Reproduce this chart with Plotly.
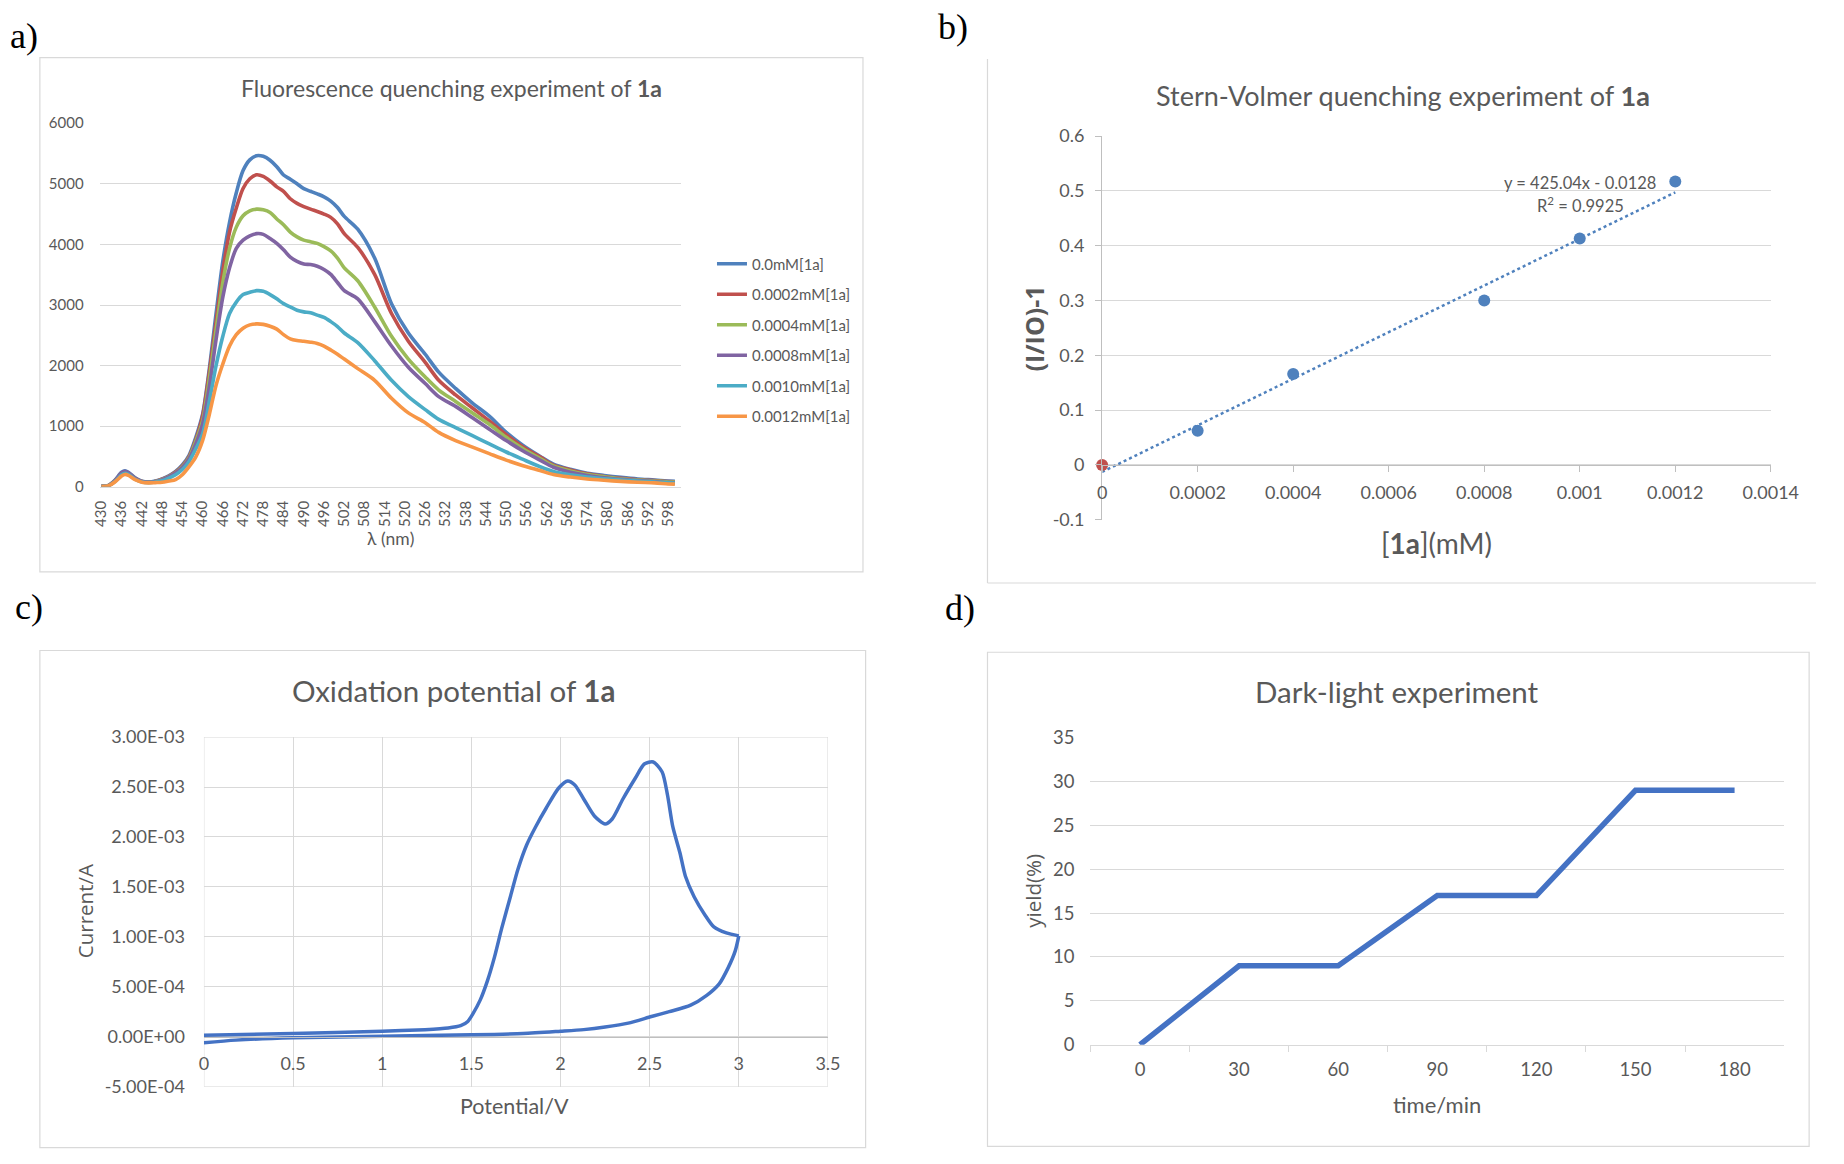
import plotly.graph_objects as go

W, H = 1844, 1164

# ---------------- a) fluorescence spectra ----------------
wavelength = [430, 432, 434, 436, 437, 438, 440, 442, 444, 446,
              448, 450, 452, 454, 456, 458, 460, 462, 464, 466,
              468, 470, 472, 474, 476, 478, 480, 482, 484, 486,
              488, 490, 492, 494, 496, 498, 500, 502,
              506, 511, 516, 521, 526, 530, 535, 540, 545, 550,
              555, 560, 564, 569, 574, 579, 584, 589, 594, 598, 600]

spec_names = ["0.0mM[1a]", "0.0002mM[1a]", "0.0004mM[1a]",
              "0.0008mM[1a]", "0.0010mM[1a]", "0.0012mM[1a]"]
spec_colors = ["#4F81BD", "#C0504D", "#9BBB59", "#8064A2", "#4BACC6", "#F79646"]

spec_00 = [8, 20, 110, 240, 263, 240, 150, 95, 80, 95,
           129, 180, 253, 360, 522, 817, 1194, 1946, 2860, 3720,
           4365, 4852, 5217, 5394, 5464, 5453, 5389, 5282, 5145, 5075,
           5000, 4919, 4876, 4833, 4785, 4715, 4608, 4462,
           4250, 3774, 3022, 2538, 2188, 1892, 1624, 1382, 1167, 898,
           683, 505, 376, 290, 226, 188, 156, 129, 113, 97, 91]
spec_02 = [8, 18, 100, 225, 250, 228, 140, 90, 78, 90,
           125, 175, 245, 345, 500, 780, 1167, 1892, 2726, 3559,
           4204, 4600, 4922, 5083, 5148, 5121, 5046, 4950, 4876, 4753,
           4677, 4624, 4581, 4543, 4500, 4446, 4339, 4177,
           3950, 3505, 2860, 2403, 2054, 1758, 1516, 1301, 1086, 860,
           656, 495, 360, 280, 215, 172, 140, 118, 102, 86, 82]
spec_04 = [8, 18, 98, 220, 245, 222, 138, 90, 77, 88,
           120, 170, 235, 330, 480, 753, 1086, 1785, 2591, 3371,
           3935, 4285, 4473, 4554, 4581, 4570, 4527, 4419, 4323, 4204,
           4124, 4070, 4043, 4016, 3962, 3892, 3774, 3613,
           3400, 2968, 2484, 2108, 1812, 1597, 1409, 1220, 1032, 817,
           629, 468, 344, 263, 204, 167, 134, 113, 97, 81, 78]
spec_08 = [8, 18, 100, 228, 255, 230, 140, 90, 77, 87,
           115, 165, 230, 320, 465, 710, 1032, 1651, 2430, 3129,
           3613, 3935, 4070, 4140, 4177, 4165, 4097, 4016, 3910, 3790,
           3720, 3677, 3667, 3640, 3586, 3505, 3371, 3237,
           3100, 2726, 2323, 1973, 1704, 1489, 1328, 1140, 952, 763,
           591, 441, 323, 242, 188, 151, 124, 102, 86, 70, 68]
spec_10 = [6, 15, 85, 200, 225, 205, 125, 82, 70, 80,
           100, 145, 200, 285, 420, 629, 871, 1409, 2000, 2484,
           2860, 3048, 3172, 3210, 3237, 3226, 3172, 3102, 3022, 2968,
           2914, 2887, 2871, 2833, 2796, 2726, 2645, 2538,
           2380, 2081, 1758, 1489, 1274, 1113, 978, 844, 710, 575,
           452, 333, 253, 199, 161, 134, 113, 97, 81, 65, 62]
spec_12 = [5, 14, 80, 180, 205, 190, 120, 78, 66, 70,
           75, 95, 118, 199, 333, 495, 763, 1194, 1677, 2027,
           2323, 2511, 2618, 2672, 2688, 2680, 2650, 2602, 2511, 2441,
           2414, 2403, 2387, 2366, 2323, 2258, 2188, 2108,
           1950, 1758, 1462, 1220, 1059, 898, 763, 656, 548, 441,
           349, 269, 204, 161, 129, 108, 91, 75, 65, 48, 45]
spectra = [spec_00, spec_02, spec_04, spec_08, spec_10, spec_12]
wl_ticks = list(range(430, 599, 6))

# ---------------- b) Stern-Volmer ----------------
conc = [0.0002, 0.0004, 0.0008, 0.001, 0.0012]
ratio = [0.0625, 0.166, 0.300, 0.413, 0.517]
conc_blank = [0]
ratio_blank = [0]
fit_x = [0, 0.0012]
fit_y = [-0.0128, 0.4972]
sv_xticks = [0, 0.0002, 0.0004, 0.0006, 0.0008, 0.001, 0.0012, 0.0014]
sv_xlabels = ["0", "0.0002", "0.0004", "0.0006", "0.0008", "0.001", "0.0012", "0.0014"]
sv_yticks = [-0.1, 0, 0.1, 0.2, 0.3, 0.4, 0.5, 0.6]
sv_ylabels = ["-0.1", "0", "0.1", "0.2", "0.3", "0.4", "0.5", "0.6"]

# ---------------- c) cyclic voltammogram ----------------
pot_fwd = [0, 0.5, 1.0, 1.24, 1.37, 1.44, 1.48, 1.51, 1.55, 1.59, 1.63, 1.67,
           1.72, 1.76, 1.81, 1.86, 1.92, 1.99, 2.04, 2.08, 2.13, 2.19, 2.25,
           2.29, 2.35, 2.42, 2.47, 2.52, 2.57, 2.60, 2.63, 2.67, 2.70, 2.75,
           2.81, 2.86, 2.93, 3.0]
cur_fwd = [1.6e-5, 3.3e-5, 5.6e-5, 7.2e-5, 8.8e-5, 1.11e-4, 1.54e-4, 2.35e-4,
           3.7e-4, 5.6e-4, 8.0e-4, 1.085e-3, 1.41e-3, 1.67e-3, 1.92e-3,
           2.10e-3, 2.29e-3, 2.49e-3, 2.56e-3, 2.52e-3, 2.38e-3, 2.21e-3,
           2.13e-3, 2.18e-3, 2.38e-3, 2.59e-3, 2.73e-3, 2.75e-3, 2.65e-3,
           2.42e-3, 2.10e-3, 1.84e-3, 1.61e-3, 1.40e-3, 1.22e-3, 1.10e-3,
           1.04e-3, 1.01e-3]
pot_rev = [3.0, 2.98, 2.94, 2.89, 2.82, 2.73, 2.61, 2.51, 2.38, 2.25, 2.13,
           2.0, 1.79, 1.5, 1.0, 0.5, 0.18, 0]
cur_rev = [1.01e-3, 8.6e-4, 6.9e-4, 5.3e-4, 4.15e-4, 3.17e-4, 2.52e-4, 2.03e-4,
           1.37e-4, 9.8e-5, 7.2e-5, 5.6e-5, 3.3e-5, 2.0e-5, 6.5e-6, -9.8e-6,
           -3.3e-5, -5.9e-5]
cv_yticks = [-5e-4, 0, 5e-4, 1e-3, 1.5e-3, 2e-3, 2.5e-3, 3e-3]
cv_ylabels = ["-5.00E-04", "0.00E+00", "5.00E-04", "1.00E-03",
              "1.50E-03", "2.00E-03", "2.50E-03", "3.00E-03"]

# ---------------- d) dark-light ----------------
time_min = ["0", "30", "60", "90", "120", "150", "180"]
yield_pct = [0, 9, 9, 17, 17, 29, 29]


def px(x):
    return x / W


def py(y):
    return 1 - y / H


GRID = "#D9D9D9"
AXIS = "#BFBFBF"
TXT = "#595959"
FONT = "Lato"

fig = go.Figure()

for i, (name, vals) in enumerate(zip(spec_names, spectra)):
    fig.add_trace(go.Scatter(
        x=wavelength, y=vals, name=name, mode="lines",
        line=dict(color=spec_colors[i], width=3.6, shape="spline", smoothing=0.8),
        legendgroup="g%d" % i, xaxis="x", yaxis="y"))

fig.add_trace(go.Scatter(
    x=fit_x, y=fit_y, mode="lines", showlegend=False,
    line=dict(color="#4F81BD", width=2.5, dash="dot"), xaxis="x2", yaxis="y2"))
fig.add_trace(go.Scatter(
    x=conc, y=ratio, mode="markers", showlegend=False,
    marker=dict(color="#4F81BD", size=12), xaxis="x2", yaxis="y2"))
fig.add_trace(go.Scatter(
    x=conc_blank, y=ratio_blank, mode="markers", showlegend=False,
    marker=dict(color="#C0504D", size=12), xaxis="x2", yaxis="y2", cliponaxis=False))

for xs, ys in ((pot_fwd, cur_fwd), (pot_rev, cur_rev)):
    fig.add_trace(go.Scatter(
        x=xs, y=ys, mode="lines", showlegend=False,
        line=dict(color="#4472C4", width=3.5, shape="spline", smoothing=0.7),
        xaxis="x3", yaxis="y3", cliponaxis=False))

fig.add_trace(go.Scatter(
    x=time_min, y=yield_pct, mode="lines", showlegend=False,
    line=dict(color="#4472C4", width=5.5), xaxis="x4", yaxis="y4"))

tickfont = dict(family=FONT, color=TXT)

fig.update_layout(
    width=W, height=H, autosize=False,
    margin=dict(l=0, r=0, t=0, b=0),
    paper_bgcolor="white", plot_bgcolor="white",
    font=dict(family=FONT, color=TXT),
    legend=dict(x=px(718), y=py(240), xanchor="left", yanchor="top",
                font=dict(family=FONT, size=15, color=TXT),
                tracegroupgap=8, bgcolor="rgba(0,0,0,0)", itemwidth=30),
    # a
    xaxis=dict(domain=[px(93.5), px(686)], range=[429.5, 601.7], anchor="y",
               tickvals=wl_ticks, ticktext=[str(v) for v in wl_ticks],
               tickangle=-90, showgrid=False, zeroline=False,
               showline=True, linecolor=GRID, ticks="",
               tickfont=dict(tickfont, size=15), ticklabelstandoff=7),
    yaxis=dict(domain=[py(484), py(113.3)], range=[0, 6000], dtick=1000,
               anchor="x", showgrid=True, gridcolor=GRID, zeroline=False,
               showline=False, ticks="", tickfont=dict(tickfont, size=15),
               ticklabelstandoff=15),
    # b
    xaxis2=dict(domain=[px(1115.9), px(1797.9)], range=[0, 0.0014],
                anchor="free", position=py(461.7),
                tickvals=sv_xticks, ticktext=sv_xlabels,
                showgrid=False, zeroline=False, showline=True, linecolor=AXIS,
                ticks="outside", ticklen=6, tickcolor=AXIS,
                tickfont=dict(tickfont, size=18), ticklabelstandoff=5),
    yaxis2=dict(domain=[py(517.5), py(126.4)], range=[-0.1, 0.6], anchor="x2",
                tickvals=sv_yticks, ticktext=sv_ylabels,
                showgrid=True, gridcolor=GRID, zeroline=False,
                showline=True, linecolor=AXIS, ticks="outside", ticklen=6,
                tickcolor=AXIS, tickfont=dict(tickfont, size=18),
                ticklabelstandoff=7),
    # c
    xaxis3=dict(domain=[px(199.8), px(836.3)], range=[0, 3.5], dtick=0.5,
                anchor="free", position=py(1044.5),
                showgrid=True, gridcolor=GRID, zeroline=False,
                showline=True, linecolor=AXIS, ticks="",
                tickfont=dict(tickfont, size=18), ticklabelstandoff=11),
    yaxis3=dict(domain=[py(1095.5), py(739)], range=[-5e-4, 3e-3], anchor="x3",
                tickvals=cv_yticks, ticktext=cv_ylabels,
                showgrid=True, gridcolor=GRID, zeroline=False,
                showline=False, ticks="", tickfont=dict(tickfont, size=18),
                ticklabelstandoff=18),
    # d
    xaxis4=dict(domain=[px(1104), px(1811.5)], type="category",
                categoryorder="array", categoryarray=time_min,
                range=[-0.5, 6.5], anchor="y4", tickson="boundaries",
                ticks="outside", ticklen=6, tickcolor=GRID,
                showgrid=False, zeroline=False, showline=True, linecolor=GRID,
                tickfont=dict(tickfont, size=18.5), ticklabelstandoff=8),
    yaxis4=dict(domain=[py(1052.6), py(739.6)], range=[0, 35], dtick=5,
                anchor="x4", showgrid=True, gridcolor=GRID, zeroline=False,
                showline=False, ticks="", tickfont=dict(tickfont, size=18.5),
                ticklabelstandoff=15),
)

# chart area frames
frame = dict(color=GRID, width=1.2)
fig.add_shape(type="rect", xref="paper", yref="paper",
              x0=px(32.5), x1=px(872), y0=py(570.6), y1=py(46.5), line=frame)
fig.add_shape(type="line", xref="paper", yref="paper",
              x0=px(999), x1=px(999), y0=py(582), y1=py(48), line=frame)
fig.add_shape(type="line", xref="paper", yref="paper",
              x0=px(999), x1=1, y0=py(582), y1=py(582), line=frame)
fig.add_shape(type="rect", xref="paper", yref="paper",
              x0=px(32.5), x1=px(874.7), y0=py(1157.5), y1=py(650.8), line=frame)
fig.add_shape(type="rect", xref="paper", yref="paper",
              x0=px(999), x1=px(1837), y0=py(1156.3), y1=py(652.6), line=frame)
fig.add_shape(type="rect", xref="x3", yref="y3", x0=0, x1=3.5, y0=-5e-4, y1=3e-3,
              line=dict(color=GRID, width=1), layer="below")


def label(x, y, text, size, family=FONT, color=TXT, angle=0, xanchor="center"):
    fig.add_annotation(x=px(x), y=py(y), xref="paper", yref="paper", text=text,
                       showarrow=False, textangle=angle, xanchor=xanchor,
                       yanchor="middle",
                       font=dict(family=family, size=size, color=color))


# panel letters
serif = "Liberation Serif"
label(0, 24, "a)", 36, serif, "black", xanchor="left")
label(946, 15, "b)", 36, serif, "black", xanchor="left")
label(5, 606, "c)", 36, serif, "black", xanchor="left")
label(954, 607, "d)", 36, serif, "black", xanchor="left")

# titles
label(452, 77, "Fluorescence quenching experiment of <b>1a</b>", 23)
label(1423, 85, "Stern-Volmer quenching experiment of <b>1a</b>", 27)
label(454, 692, "Oxidation potential of <b>1a</b>", 29.5)
label(1417, 693, "Dark-light experiment", 29.5)

# axis titles
label(390, 537, "λ (nm)", 17.5)
label(1046, 323, "<b>(I/IO)-1</b>", 25, "Open Sans", angle=-90)
label(1457, 541, "[<b>1a</b>](mM)", 28)
label(78, 916, "Current/A", 20.5, "Open Sans", angle=-90)
label(517, 1115, "Potential/V", 21.5)
label(1045, 896, "yield(%)", 20.5, "Open Sans", angle=-90)
label(1457, 1114, "time/min", 22)

# trendline equation
label(1603, 174, "y = 425.04x - 0.0128", 16.5)
label(1604, 197, "R<sup>2</sup> = 0.9925", 16.5)

fig.write_html("out.html", config={"displayModeBar": False},
               post_script="document.body.style.margin='0px';")
